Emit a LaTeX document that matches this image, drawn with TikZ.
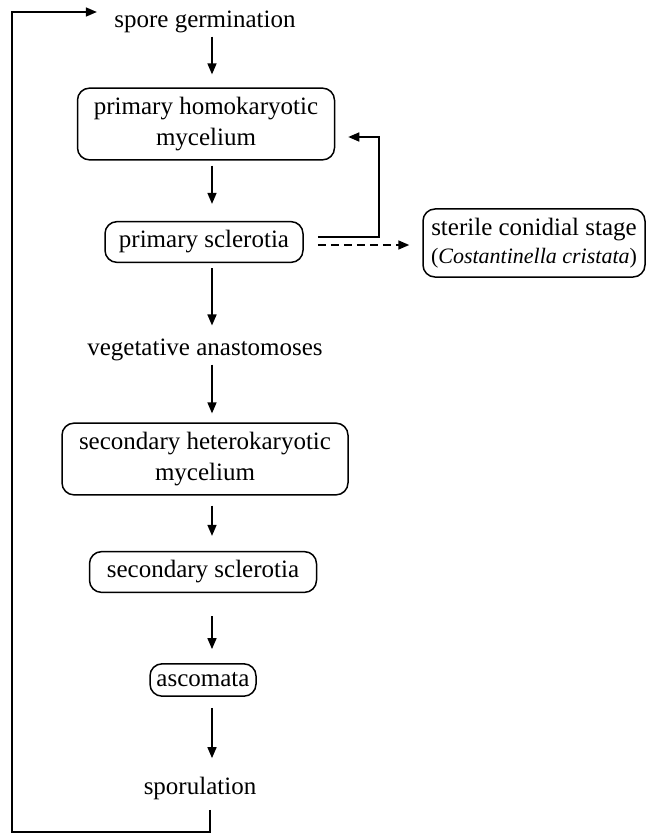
\documentclass[tikz,border=0pt]{standalone}
\usepackage{fontspec}
\setmainfont{Liberation Serif}
\usepackage{tikz}
\usetikzlibrary{arrows.meta, positioning, calc}
\tikzset{%
	stage/.style={draw, rectangle, rounded corners=12pt, line width=1.5pt,%
		align=center, inner xsep=0pt, inner ysep=9pt, minimum width=#1},
	label/.style={align=center},
	flow/.style={-{Triangle[length=11pt, width=9pt]}, line width=1.6pt},
	hint/.style={dash pattern=on 8pt off 5pt}
}
\newcommand{\sub}{\fontsize{22}{27}\selectfont}

\begin{document}
\begin{tikzpicture}[x=1pt, y=-1pt, font=\fontsize{25}{31}\selectfont]
  \useasboundingbox (0,0) rectangle (647,835);
  \coordinate (ax) at (212,0);

  \node[label] (spore) at (205,22) {spore germination};
  \node[stage=257pt] (pmh) at (206,124) {primary homokaryotic\\mycelium};
  \node[stage=198pt] (ps) at (204,242) {primary sclerotia};
  \node[stage=222pt] (scs) at (534,243) {sterile conidial stage\\[-3pt]{\sub(\textit{Costantinella cristata})}};
  \node[label] (veg) at (205,350) {vegetative anastomoses};
  \node[stage=286pt] (shm) at (205,459) {secondary heterokaryotic\\mycelium};
  \node[stage=227pt] (ss) at (203,572) {secondary sclerotia};
  \node[stage=106pt] (asc) at (203,680) {ascomata};
  \node[label] (spor) at (200,788) {sporulation};

  % main sequence
  \foreach \a/\b/\s/\e in {spore/pmh/0/13, pmh/ps/5/17, ps/veg/5/10, veg/shm/0/9,%
      shm/ss/10/15, ss/asc/23/14, asc/spor/11/15}
    \draw[flow, shorten <=\s pt, shorten >=\e pt] (\a.south -| ax) -- (\b.north -| ax);

  % feedback and conidial stage
  \coordinate (fb) at (379,137);
  \draw[flow] ($(ps.east)+(14,-5)$) -| (fb) -- ($(pmh.east |- fb)+(13,0)$);
  \draw[flow, hint] ($(ps.east)+(14,3)$) -- ($(ps.east -| scs.west)+(-13,3)$);

  % back to the start
  \coordinate (cbot) at (12,832);
  \coordinate (ctop) at (12,12);
  \draw[flow] ($(spor.south -| ax)+(-2,7)$) |- (cbot) -- (ctop) -- ($(spore.west |- ctop)+(-14,0)$);
\end{tikzpicture}
\end{document}
